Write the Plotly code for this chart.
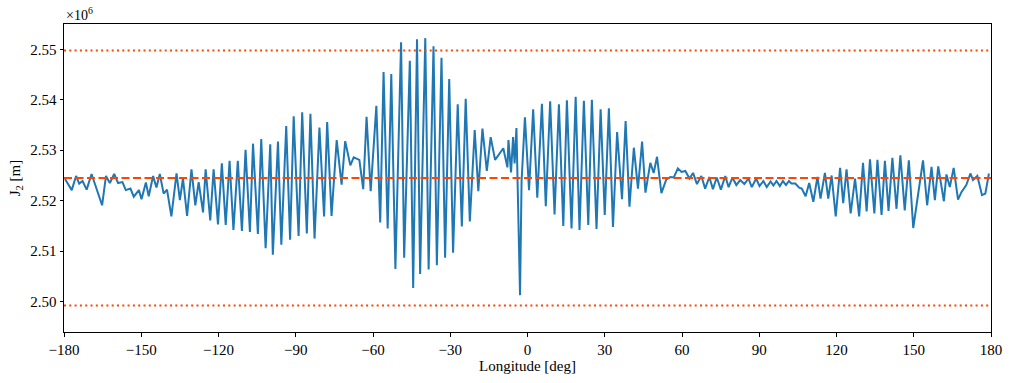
import plotly.graph_objects as go

# Longitude [deg]
longitude = [
    -179.6, -177.0, -175.3, -174.1, -172.8, -171.2, -169.3, -167.2, -165.2, -163.7,
    -162.2, -160.5, -159.0, -157.3, -156.0, -154.2, -152.9, -150.9, -149.9, -148.2,
    -147.1, -145.4, -144.1, -142.8, -141.3, -140.0, -138.3, -136.3, -135.0, -133.8,
    -132.2, -130.5, -129.0, -127.7, -126.0, -125.0, -123.2, -121.9, -120.2, -118.7,
    -117.2, -115.7, -114.2, -112.5, -110.9, -109.5, -107.8, -106.6, -104.7, -103.4,
    -101.7, -99.9, -98.9, -96.9, -95.6, -93.7, -92.2, -90.8, -88.9, -87.5,
    -85.7, -84.3, -82.7, -80.8, -79.0, -77.8, -76.1, -74.1, -72.2, -70.8,
    -68.8, -67.5, -65.3, -63.8, -62.5, -60.9, -58.7, -57.2, -55.9, -54.3,
    -52.9, -51.3, -49.1, -47.9, -45.7, -44.4, -42.9, -41.7, -39.7, -38.4,
    -36.5, -35.2, -33.4, -32.0, -30.4, -28.9, -27.1, -25.5, -24.0, -22.4,
    -20.5, -19.1, -17.5, -15.8, -14.3, -12.6, -11.0, -9.4, -7.8, -7.4,
    -6.4, -5.6, -5.0, -4.3, -2.9, -2.3, -1.0, 0.6, 2.2, 3.8,
    5.6, 7.1, 8.8, 10.5, 12.2, 13.9, 15.3, 17.1, 18.7, 20.2,
    21.9, 23.6, 25.0, 26.8, 28.4, 30.0, 31.6, 33.2, 34.8, 36.7,
    38.1, 39.6, 41.3, 42.9, 44.5, 45.8, 47.7, 49.0, 50.3, 52.0,
    53.9, 55.5, 56.8, 58.4, 59.8, 61.3, 62.9, 64.3, 65.8, 67.5,
    69.0, 70.6, 72.0, 73.5, 75.1, 76.8, 78.1, 79.6, 81.1, 82.6,
    84.2, 85.8, 87.1, 88.8, 90.1, 91.6, 92.9, 94.4, 95.5, 96.7,
    98.0, 99.2, 100.4, 101.5, 102.5, 104.0, 105.5, 106.5, 108.0, 109.4,
    111.0, 112.6, 113.8, 115.5, 116.8, 118.1, 119.7, 121.4, 122.6, 123.9,
    125.5, 127.2, 128.8, 130.3, 131.7, 133.0, 134.7, 135.9, 137.5, 138.8,
    140.2, 141.7, 143.3, 144.8, 146.5, 148.1, 149.8, 151.7, 153.6, 155.2,
    156.9, 158.2, 159.5, 161.7, 162.7, 164.0, 165.5, 167.2, 168.5, 170.4,
    172.0, 173.0, 174.7, 176.5, 177.8, 179.2,
]

# J2 [m], in units of 10^6 m
j2_1e6 = [
    2.5243, 2.5221, 2.5249, 2.5234, 2.5239, 2.5222, 2.5253, 2.5221, 2.5191, 2.5249,
    2.5235, 2.5253, 2.5235, 2.5237, 2.5221, 2.5224, 2.5208, 2.5221, 2.5203, 2.5236,
    2.5209, 2.5249, 2.5226, 2.5253, 2.5214, 2.5222, 2.5169, 2.5254, 2.5201, 2.5244,
    2.5170, 2.5262, 2.5191, 2.5237, 2.5177, 2.5262, 2.5161, 2.5262, 2.5153, 2.5274,
    2.5152, 2.5279, 2.5142, 2.5279, 2.5140, 2.5301, 2.5138, 2.5313, 2.5134, 2.5322,
    2.5106, 2.5312, 2.5093, 2.5317, 2.5113, 2.5348, 2.5123, 2.5367, 2.5130, 2.5375,
    2.5135, 2.5372, 2.5125, 2.5345, 2.5169, 2.5356, 2.5170, 2.5320, 2.5232, 2.5318,
    2.5270, 2.5286, 2.5281, 2.5223, 2.5366, 2.5219, 2.5388, 2.5157, 2.5455, 2.5145,
    2.5451, 2.5065, 2.5514, 2.5087, 2.5477, 2.5027, 2.5520, 2.5055, 2.5522, 2.5064,
    2.5506, 2.5072, 2.5483, 2.5087, 2.5441, 2.5097, 2.5391, 2.5149, 2.5402, 2.5159,
    2.5340, 2.5219, 2.5343, 2.5259, 2.5326, 2.5281, 2.5292, 2.5304, 2.5266, 2.5320,
    2.5256, 2.5326, 2.5274, 2.5344, 2.5013, 2.5239, 2.5365, 2.5221, 2.5381, 2.5206,
    2.5392, 2.5189, 2.5397, 2.5173, 2.5391, 2.5150, 2.5399, 2.5145, 2.5406, 2.5142,
    2.5398, 2.5152, 2.5400, 2.5144, 2.5381, 2.5172, 2.5383, 2.5148, 2.5336, 2.5203,
    2.5358, 2.5188, 2.5305, 2.5224, 2.5317, 2.5216, 2.5275, 2.5255, 2.5287, 2.5215,
    2.5242, 2.5247, 2.5246, 2.5264, 2.5257, 2.5259, 2.5244, 2.5255, 2.5233, 2.5249,
    2.5224, 2.5247, 2.5223, 2.5246, 2.5222, 2.5249, 2.5227, 2.5246, 2.5231, 2.5241,
    2.5233, 2.5244, 2.5227, 2.5244, 2.5229, 2.5239, 2.5227, 2.5238, 2.5230, 2.5239,
    2.5229, 2.5239, 2.5231, 2.5239, 2.5234, 2.5234, 2.5226, 2.5224, 2.5209, 2.5235,
    2.5198, 2.5247, 2.5204, 2.5255, 2.5204, 2.5250, 2.5169, 2.5265, 2.5195, 2.5262,
    2.5175, 2.5244, 2.5169, 2.5275, 2.5179, 2.5282, 2.5175, 2.5281, 2.5172, 2.5279,
    2.5180, 2.5285, 2.5184, 2.5290, 2.5181, 2.5280, 2.5146, 2.5209, 2.5280, 2.5191,
    2.5267, 2.5201, 2.5268, 2.5199, 2.5252, 2.5227, 2.5265, 2.5202, 2.5217, 2.5231,
    2.5254, 2.5241, 2.5249, 2.5211, 2.5214, 2.5254,
]

mean_j2 = 2.5245          # dashed reference line
band_frac = 0.01          # dotted lines at +/- 1 %
upper_j2 = mean_j2 * (1 + band_frac)
lower_j2 = mean_j2 * (1 - band_frac)

x_ticks = [-180, -150, -120, -90, -60, -30, 0, 30, 60, 90, 120, 150, 180]
x_tick_text = ["\u2212180", "\u2212150", "\u2212120", "\u221290", "\u221260", "\u221230",
               "0", "30", "60", "90", "120", "150", "180"]
y_ticks = [2.50, 2.51, 2.52, 2.53, 2.54, 2.55]
y_tick_text = ["2.50", "2.51", "2.52", "2.53", "2.54", "2.55"]

FONT = "Liberation Serif"
FS = 15
RED = "#ff4500"

fig = go.Figure()
fig.add_trace(go.Scatter(
    x=longitude, y=j2_1e6, mode="lines",
    line=dict(color="#1f77b4", width=2), showlegend=False,
))

for yv, dash in [(mean_j2, "8px,3.5px"), (upper_j2, "2px,3.3px"), (lower_j2, "2px,3.3px")]:
    fig.add_shape(type="line", xref="paper", x0=0, x1=1, yref="y", y0=yv, y1=yv,
                  line=dict(color=RED, width=2, dash=dash), layer="above")

fig.add_annotation(text="\u00d710<sup>6</sup>", xref="paper", yref="paper",
                   x=0, y=1, xanchor="left", yanchor="bottom", yshift=-1,
                   showarrow=False, font=dict(family=FONT, size=14, color="black"))

axis_common = dict(showline=True, linecolor="black", linewidth=1, mirror=True,
                   ticks="outside", ticklen=3.5, tickwidth=1, tickcolor="black",
                   showgrid=False, zeroline=False,
                   tickfont=dict(family=FONT, size=FS, color="black"))

fig.update_layout(
    width=1014, height=383,
    margin=dict(l=64, r=21, t=24, b=51),
    paper_bgcolor="white", plot_bgcolor="white",
    font=dict(family=FONT, size=FS, color="black"),
    xaxis=dict(range=[-180, 180], tickvals=x_ticks, ticktext=x_tick_text,
               title=dict(text="Longitude [deg]", standoff=3,
                          font=dict(family=FONT, size=FS)),
               **axis_common),
    yaxis=dict(range=[2.4940, 2.5550], tickvals=y_ticks, ticktext=y_tick_text,
               title=dict(text="J<sub>2</sub> [m]", standoff=6,
                          font=dict(family=FONT, size=FS)),
               **axis_common),
)

fig.write_html("out.html",
               config={"displayModeBar": False},
               post_script="document.body.style.margin='0';document.body.style.padding='0';")
